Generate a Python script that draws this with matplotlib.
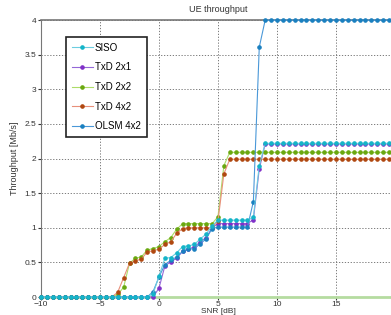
import numpy as np
import matplotlib
matplotlib.use('Agg')
import matplotlib.pyplot as plt

plt.rcParams['font.family'] = ['Liberation Sans', 'DejaVu Sans']

# SNR axis, -10 .. 20 dB in 0.5 dB steps
snr = np.arange(-10, 20.5, 0.5)

siso = [0, 0, 0, 0, 0, 0, 0, 0, 0, 0, 0, 0, 0, 0, 0, 0, 0, 0, 0, 0.05,
        0.30, 0.56, 0.57, 0.64, 0.73, 0.74, 0.76, 0.84, 0.91, 1.03,
        1.11, 1.11, 1.11, 1.11, 1.11, 1.11, 1.15, 1.90, 2.22, 2.22,
        2.22, 2.22, 2.22, 2.22, 2.22, 2.22, 2.22, 2.22, 2.22, 2.22,
        2.22, 2.22, 2.22, 2.22, 2.22, 2.22, 2.22, 2.22, 2.22, 2.22, 2.22]
txd_2x1 = [0, 0, 0, 0, 0, 0, 0, 0, 0, 0, 0, 0, 0, 0, 0, 0, 0, 0, 0, 0,
           0.13, 0.45, 0.51, 0.56, 0.66, 0.70, 0.72, 0.80, 0.86, 1.00,
           1.06, 1.06, 1.06, 1.06, 1.06, 1.06, 1.12, 1.85, 2.21, 2.21,
           2.21, 2.21, 2.21, 2.21, 2.21, 2.21, 2.21, 2.21, 2.21, 2.21,
           2.21, 2.21, 2.21, 2.21, 2.21, 2.21, 2.21, 2.21, 2.21, 2.21, 2.21]
txd_2x2 = [0, 0, 0, 0, 0, 0, 0, 0, 0, 0, 0, 0, 0, 0.04, 0.14, 0.49, 0.56, 0.58, 0.68, 0.70,
           0.73, 0.80, 0.86, 0.98, 1.06, 1.06, 1.06, 1.06, 1.06, 1.06,
           1.16, 1.90, 2.09, 2.09, 2.09, 2.09, 2.09, 2.09, 2.09, 2.09,
           2.09, 2.09, 2.09, 2.09, 2.09, 2.09, 2.09, 2.09, 2.09, 2.09,
           2.09, 2.09, 2.09, 2.09, 2.09, 2.09, 2.09, 2.09, 2.09, 2.09, 2.09]
txd_4x2 = [0, 0, 0, 0, 0, 0, 0, 0, 0, 0, 0, 0, 0, 0.07, 0.28, 0.49, 0.52, 0.55, 0.65, 0.67,
           0.69, 0.76, 0.80, 0.92, 0.99, 1.00, 1.00, 1.00, 1.00, 1.00,
           1.10, 1.78, 1.99, 1.99, 1.99, 1.99, 1.99, 1.99, 1.99, 1.99,
           1.99, 1.99, 1.99, 1.99, 1.99, 1.99, 1.99, 1.99, 1.99, 1.99,
           1.99, 1.99, 1.99, 1.99, 1.99, 1.99, 1.99, 1.99, 1.99, 1.99, 1.99]
olsm_4x2 = [0, 0, 0, 0, 0, 0, 0, 0, 0, 0, 0, 0, 0, 0, 0, 0, 0, 0, 0, 0.08,
            0.29, 0.47, 0.53, 0.58, 0.66, 0.69, 0.70, 0.77, 0.84, 0.99,
            1.01, 1.01, 1.01, 1.01, 1.01, 1.01, 1.38, 3.61, 4.00, 4.00,
            4.00, 4.00, 4.00, 4.00, 4.00, 4.00, 4.00, 4.00, 4.00, 4.00,
            4.00, 4.00, 4.00, 4.00, 4.00, 4.00, 4.00, 4.00, 4.00, 4.00, 4.00]

labels = ['SISO', 'TxD 2x1', 'TxD 2x2', 'TxD 4x2', 'OLSM 4x2']
series = [siso, txd_2x1, txd_2x2, txd_4x2, olsm_4x2]
line_cols = ['#6ccde0', '#9468d8', '#addc68', '#e8907a', '#4a98d8']
mark_cols = ['#14b4c8', '#8030c8', '#6aa810', '#b04810', '#1a80c0']
zords = [6, 3, 4, 4, 5]

fig = plt.figure(figsize=(3.91, 3.15), dpi=100)
ax = fig.add_axes([0.105, 0.057, 0.905, 0.879])

for ys, lab, lc, mc, z in zip(series, labels, line_cols, mark_cols, zords):
    ax.plot(snr, ys, '-o', color=lc, lw=0.8, ms=2.3, mfc=mc, mec=mc,
            label=lab, zorder=z, clip_on=False)

ax.set_xlim(-10, 20)
ax.set_ylim(0, 4)
ax.set_xticks(np.arange(-10, 21, 5))
ax.set_yticks(np.arange(0, 4.01, 0.5))
ax.set_yticklabels(['0', '0.5', '1', '1.5', '2', '2.5', '3', '3.5', '4'])
ax.tick_params(labelsize=6, length=2, colors='#333333', pad=1.5)
ax.tick_params(axis='x', pad=0.5)
ax.grid(True, linestyle=(0, (1.5, 2)), color='#666666', lw=0.6)

for s in ['left', 'top', 'right']:
    ax.spines[s].set_color('#777777')
ax.spines['bottom'].set_color('#b5dca0')
ax.spines['bottom'].set_linewidth(2)
ax.spines['top'].set_linewidth(1.2)

ax.set_title('UE throughput', fontsize=6.5, color='#333333', pad=6)
ax.set_xlabel('SNR [dB]', fontsize=6, color='#333333')
ax.xaxis.set_label_coords(0.5, -0.04)
ax.set_ylabel('Throughput [Mb/s]', fontsize=6.5, color='#333333', labelpad=4)

leg = ax.legend(loc='upper left', bbox_to_anchor=(0.07, 0.94), borderaxespad=0,
                fontsize=7, handlelength=2.2, labelspacing=1.0, fancybox=False,
                framealpha=1, edgecolor='#222222', handletextpad=0.2,
                borderpad=0.6)
leg.get_frame().set_linewidth(1.2)
leg.set_zorder(10)

fig.savefig('out.png', dpi=100)
